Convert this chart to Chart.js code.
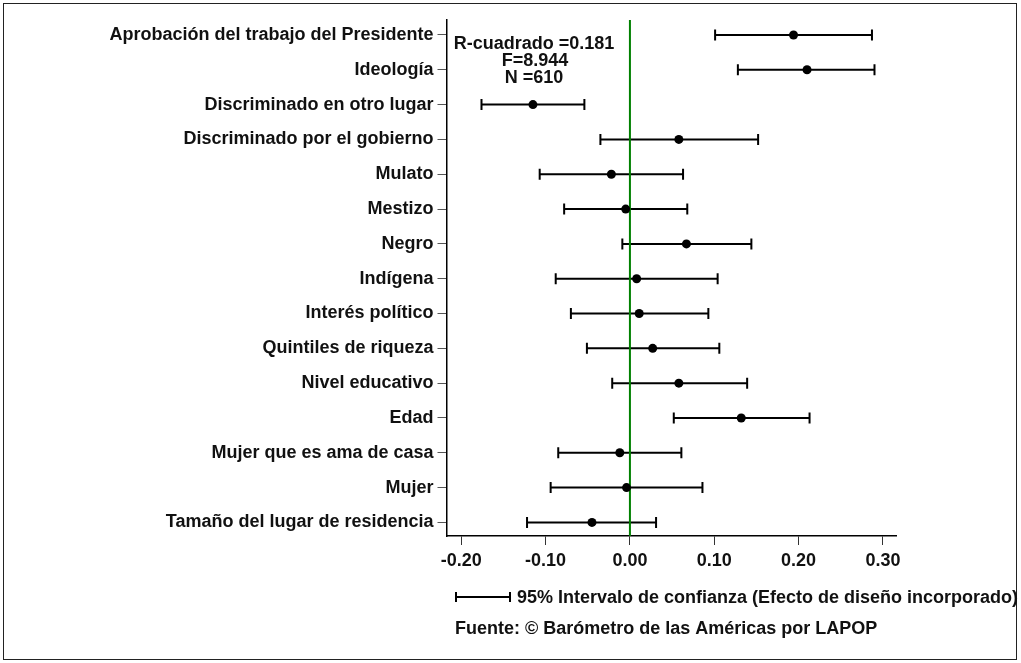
<!DOCTYPE html>
<html>
<head>
<meta charset="utf-8">
<script src="https://cdn.jsdelivr.net/npm/chart.js@4"></script>
<style>
  html, body { margin: 0; padding: 0; background: #fff; }
  #wrap { width: 1021px; height: 663px; position: relative; }
</style>
</head>
<body>
<div id="wrap"><canvas id="chart"></canvas></div>
<script>
// variables del modelo, de arriba hacia abajo
var labels = [
  "Aprobación del trabajo del Presidente",
  "Ideología",
  "Discriminado en otro lugar",
  "Discriminado por el gobierno",
  "Mulato",
  "Mestizo",
  "Negro",
  "Indígena",
  "Interés político",
  "Quintiles de riqueza",
  "Nivel educativo",
  "Edad",
  "Mujer que es ama de casa",
  "Mujer",
  "Tamaño del lugar de residencia"
]
var coef  = [0.194, 0.210, -0.115, 0.058, -0.022, -0.005, 0.067, 0.008, 0.011, 0.027, 0.058, 0.132, -0.012, -0.004, -0.045]
var lower = [0.101, 0.128, -0.176, -0.035, -0.107, -0.078, -0.009, -0.088, -0.070, -0.051, -0.021, 0.052, -0.085, -0.094, -0.122]
var upper = [0.287, 0.290, -0.054, 0.152, 0.063, 0.068, 0.144, 0.104, 0.093, 0.106, 0.139, 0.213, 0.061, 0.086, 0.031]
var xTicks = [-0.20, -0.10, 0.00, 0.10, 0.20, 0.30]
var stats = ["R-cuadrado =0.181", "F=8.944", "N =610"]
var legendText = "95% Intervalo de confianza (Efecto de diseño incorporado)"
var sourceText = "Fuente: © Barómetro de las Américas por LAPOP"

var FAMILY = "'Liberation Sans', Arial, sans-serif"
var FONT = "bold 18px " + FAMILY

var points = coef.map(function(v, i) { return { x: v, y: i + 1 } })

var errorBars = {
  id: 'errorBars',
  beforeDatasetsDraw: function(chart) {
    var ctx = chart.ctx
    var xs = chart.scales.x, ys = chart.scales.y
    var area = chart.chartArea
    ctx.save()
    ctx.strokeStyle = '#000'
    ctx.lineWidth = 2
    for (var i = 0; i < coef.length; i++) {
      var y = ys.getPixelForValue(i + 1)
      var x1 = xs.getPixelForValue(lower[i])
      var x2 = xs.getPixelForValue(upper[i])
      ctx.beginPath()
      ctx.moveTo(x1, y); ctx.lineTo(x2, y)
      ctx.moveTo(x1, y - 5.5); ctx.lineTo(x1, y + 5.5)
      ctx.moveTo(x2, y - 5.5); ctx.lineTo(x2, y + 5.5)
      ctx.stroke()
    }
    // linea de referencia en cero
    var x0 = xs.getPixelForValue(0)
    ctx.strokeStyle = '#008000'
    ctx.lineWidth = 2
    ctx.beginPath()
    ctx.moveTo(x0, area.top); ctx.lineTo(x0, area.bottom)
    ctx.stroke()
    ctx.restore()
  },
  afterDraw: function(chart) {
    var ctx = chart.ctx
    ctx.save()
    // marco exterior
    ctx.strokeStyle = '#222'
    ctx.lineWidth = 1
    ctx.strokeRect(3.5, 3.5, 1013, 656)

    ctx.fillStyle = '#111'
    ctx.font = FONT
    ctx.textAlign = 'center'
    ctx.textBaseline = 'middle'
    ctx.fillText(stats[0], 534, 44)
    ctx.fillText(stats[1], 535, 61)
    ctx.fillText(stats[2], 534, 78)

    // leyenda del intervalo
    ctx.strokeStyle = '#000'
    ctx.lineWidth = 2
    ctx.beginPath()
    ctx.moveTo(456, 597); ctx.lineTo(510, 597)
    ctx.moveTo(456, 592); ctx.lineTo(456, 602)
    ctx.moveTo(510, 592); ctx.lineTo(510, 602)
    ctx.stroke()
    ctx.textAlign = 'left'
    ctx.fillText(legendText, 517, 598)
    ctx.fillText(sourceText, 455, 629)
    ctx.restore()
  }
}

new Chart(document.getElementById('chart'), {
  type: 'scatter',
  data: {
    datasets: [{
      data: points,
      pointRadius: 4.5,
      pointHoverRadius: 4.5,
      backgroundColor: '#000',
      borderColor: '#000',
      borderWidth: 0
    }]
  },
  options: {
    responsive: true,
    maintainAspectRatio: false,
    animation: false,
    layout: { padding: { left: 0, top: 20, right: 125, bottom: 0 } },
    plugins: { legend: { display: false }, tooltip: { enabled: false } },
    scales: {
      x: {
        type: 'linear',
        min: -0.2175,
        max: 0.3155,
        afterBuildTicks: function(scale) {
          scale.ticks = xTicks.map(function(v) { return { value: v } })
        },
        afterFit: function(scale) { scale.height = 127 },
        grid: { drawOnChartArea: false, drawTicks: true, tickLength: 9, color: '#333', lineWidth: 1 },
        border: { display: true, color: '#000', width: 1.5 },
        ticks: {
          padding: 5,
          color: '#111',
          font: { family: FAMILY, size: 18, weight: 'bold' },
          maxRotation: 0,
          callback: function(v) { return Number(v).toFixed(2) }
        }
      },
      y: {
        type: 'linear',
        reverse: true,
        min: 0.57,
        max: 15.39,
        afterBuildTicks: function(scale) {
          scale.ticks = labels.map(function(l, i) { return { value: i + 1 } })
        },
        afterFit: function(scale) { scale.width = 446.5 },
        grid: { drawOnChartArea: false, drawTicks: true, tickLength: 9, color: '#555', lineWidth: 1 },
        border: { display: true, color: '#000', width: 1.5 },
        ticks: {
          padding: 4,
          color: '#111',
          font: { family: FAMILY, size: 18, weight: 'bold' },
          callback: function(v) { return labels[Math.round(v) - 1] }
        }
      }
    }
  },
  plugins: [errorBars]
})
</script>
</body>
</html>
